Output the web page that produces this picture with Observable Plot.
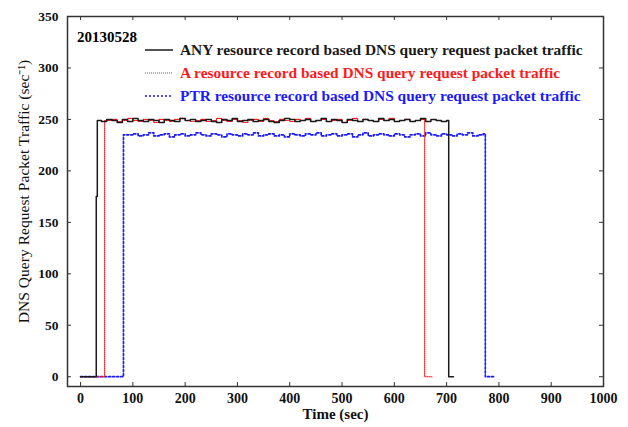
<!DOCTYPE html>
<html><head><meta charset="utf-8">
<script src="https://cdn.jsdelivr.net/npm/d3@7"></script>
<script src="https://cdn.jsdelivr.net/npm/@observablehq/plot@0.6"></script>
<style>
body{margin:0;background:#fff;}
#wrap{position:relative;width:628px;height:427px;font-family:"Liberation Serif",serif;}
#legend{position:absolute;left:0;top:0;width:628px;height:427px;pointer-events:none;}
.row{position:absolute;left:145px;height:20px;display:flex;align-items:center;font-weight:bold;font-size:15.4px;white-space:nowrap;}
.row svg{margin-right:7px;}
#date{position:absolute;left:77px;top:28px;font-weight:bold;font-size:15px;line-height:18px;}
</style></head><body><div id="wrap"><div id="legend"></div></div>
<script>
const dateLabel = "20130528";
const seriesNames = [
  "ANY resource record based DNS query request packet traffic",
  "A resource record based DNS query request packet traffic",
  "PTR resource record based DNS query request packet traffic"
];
const seriesColors = ["#1a1a1a", "#ff1a1a", "#1a1aff"];
const xTicks = [0, 100, 200, 300, 400, 500, 600, 700, 800, 900, 1000];
const yTicks = [0, 50, 100, 150, 200, 250, 300, 350];

// ANY series
const anyStartT = [0, 30, 32];
const anyStartV = [0, 175, 249];
const anyGridT = d3.range(40, 701, 10);
const anyGridV = [248,250,249,247,250,248,251,249,248,250, 249,247,250,249,248,251,249,250,248,249,
  250,248,247,250,249,251,248,249,250,248, 249,250,248,247,249,251,250,248,249,250,
  248,249,251,248,250,249,247,250,249,248, 250,249,248,251,249,250,248,249,250,248,
  249,251,248,250,249,248,249];
const anyEndT = [704, 713];
const anyEndV = [0, 0];

// A series
const aStartT = [0, 46];
const aStartV = [0, 249];
const aGridT = d3.range(50, 651, 10);
const aGridV = [249,250,248,249,251,249,248,250,249,247, 250,249,248,250,251,249,248,249,250,248,
  249,251,249,248,250,249,247,249,250,248, 251,249,248,250,249,248,250,249,251,248,
  249,250,248,249,250,247,249,251,248,250, 249,248,250,249,251,248,249,250,248,249, 250];
const aEndT = [658, 672];
const aEndV = [0, 0];

// PTR series
const ptrStartT = [0, 82];
const ptrStartV = [0, 235];
const ptrGridT = d3.range(90, 771, 10);
const ptrGridV = [235,236,234,235,237,234,235,236,233,235, 236,234,235,237,235,234,236,235,233,236,
  235,234,236,235,237,234,235,236,234,235, 233,236,235,234,236,235,237,234,235,236,
  234,235,236,233,235,237,234,235,236,235, 234,236,235,233,235,236,234,237,235,234,
  236,235,234,236,235,237,234,235,236];
const ptrEndT = [774, 790];
const ptrEndV = [0, 0];

function rows(ts, vs) {
  const out = [];
  ts.forEach((t, i) => out.push({t, v: vs[i]}));
  return out;
}
const anyData = [...rows(anyStartT, anyStartV), ...rows(anyGridT, anyGridV), ...rows(anyEndT, anyEndV)];
const aData = [...rows(aStartT, aStartV), ...rows(aGridT, aGridV), ...rows(aEndT, aEndV)];
const ptrData = [...rows(ptrStartT, ptrStartV), ...rows(ptrGridT, ptrGridV), ...rows(ptrEndT, ptrEndV)];

const W = 628, H = 427, mL = 67, mR = 25, mT = 16, mB = 41;
const pw = W - mL - mR, ph = H - mT - mB;
const tk = 4;
const font = "Liberation Serif";

const chart = Plot.plot({
  width: W, height: H,
  marginLeft: mL, marginRight: mR, marginTop: mT, marginBottom: mB,
  x: {domain: [-25, 1000]},
  y: {domain: [-9.5, 350]},
  style: {fontFamily: font, color: "#111", background: "white", overflow: "visible"},
  marks: [
    Plot.axisX(xTicks, {tickSize: 0, tickPadding: 7, fontWeight: "bold", fontSize: 14, label: null, tickFormat: d => String(d)}),
    Plot.axisY(yTicks, {tickSize: 0, tickPadding: 9, fontWeight: "bold", fontSize: 13.5, label: null, tickFormat: d => String(d)}),
    Plot.tickX(xTicks, {x: d => d, insetTop: ph - tk, stroke: "#333"}),
    Plot.tickX(xTicks, {x: d => d, insetBottom: ph - tk, stroke: "#333"}),
    Plot.tickY(yTicks, {y: d => d, insetRight: pw - tk, stroke: "#333"}),
    Plot.tickY(yTicks, {y: d => d, insetLeft: pw - tk, stroke: "#333"}),
    Plot.line(ptrData, {x: "t", y: "v", curve: "step-after", stroke: seriesColors[2], strokeWidth: 1.7, strokeDasharray: "2,2"}),
    Plot.line(aData, {x: "t", y: "v", curve: "step-after", stroke: seriesColors[1], strokeWidth: 1.1, strokeDasharray: "1,1"}),
    Plot.line(anyData, {x: "t", y: "v", curve: "step-after", stroke: seriesColors[0], strokeWidth: 1.5}),
    Plot.frame({stroke: "#333", strokeWidth: 1.5}),
    Plot.text(["Time (sec)"], {frameAnchor: "bottom", dy: 32, fontWeight: "bold", fontSize: 15, fill: "#111"}),
    Plot.text(["DNS Query Request Packet Traffic (sec\u207B\u00B9)"], {frameAnchor: "left", textAnchor: "middle", rotate: -90, dx: -44, dy: -10, fontSize: 15.6, fill: "#111"})
  ]
});
const wrap = document.getElementById("wrap");
wrap.insertBefore(chart, wrap.firstChild);

const leg = document.getElementById("legend");
const d = document.createElement("div");
d.id = "date"; d.textContent = dateLabel; leg.appendChild(d);
const dash = ["", "1,1", "2,2"];
const widths = [1.5, 1.1, 1.7];
const tops = [40, 63, 86];
seriesNames.forEach((name, i) => {
  const r = document.createElement("div");
  r.className = "row";
  r.style.top = tops[i] + "px";
  r.style.color = seriesColors[i];
  r.innerHTML = `<svg width="28" height="4"><line x1="0" x2="28" y1="2" y2="2" stroke="${seriesColors[i]}" stroke-width="${widths[i]}" ${dash[i] ? `stroke-dasharray="${dash[i]}"` : ""}/></svg><span>${name}</span>`;
  leg.appendChild(r);
});
</script>
</body></html>
